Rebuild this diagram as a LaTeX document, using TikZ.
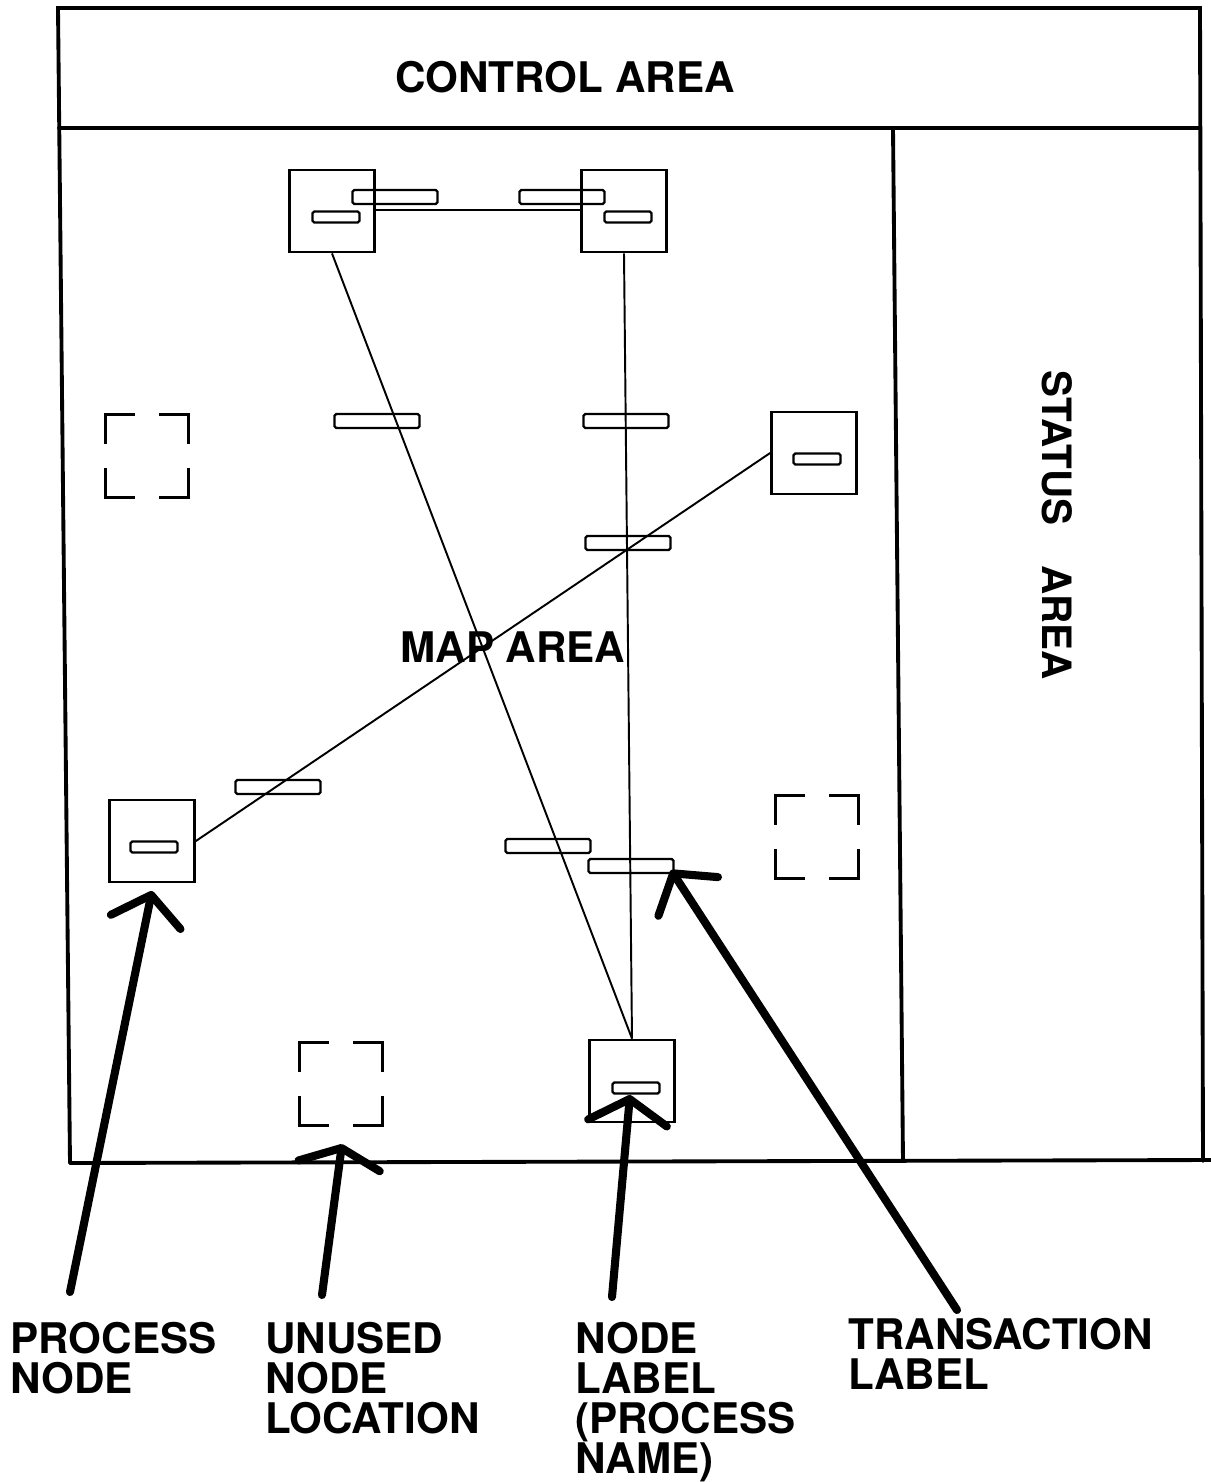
\documentclass[tikz,border=0pt]{standalone}
\usepackage{fontspec}
\setmainfont{TeX Gyre Heros}
\usetikzlibrary{arrows.meta, positioning, calc}

\tikzset{
  frame/.style={line width=2.2pt, line cap=round},
  procnode/.style={draw, line width=1.6pt, minimum width=1.7cm, minimum height=1.64cm, inner sep=0pt},
  namebox/.style={draw, line width=1.3pt, rounded corners=1pt, minimum width=0.94cm, minimum height=0.22cm, inner sep=0pt},
  transbox/.style={draw, line width=1.3pt, rounded corners=1pt, minimum width=1.7cm, minimum height=0.28cm, inner sep=0pt},
  freeslot/.style={draw, line width=1.5pt, line cap=rect, minimum size=1.66cm, inner sep=0pt,
                   dash pattern=on 1.14cm off 0.52cm, dash phase=0.57cm},
  link/.style={line width=1.1pt},
  pointer/.style={line width=4.6pt, line cap=round},
  areatext/.style={font=\fontsize{24}{24}\selectfont\bfseries, inner sep=0pt},
  callout/.style={font=\fontsize{24}{22.7}\selectfont\bfseries, align=left, anchor=north west, inner sep=0pt}
}

\begin{document}
\begin{tikzpicture}[x=0.02cm, y=-0.02cm]
  \useasboundingbox (0,0) rectangle (1211,1482);

  % screen frame
  \coordinate (tl) at (58,8);
  \coordinate (tr) at (1200,8);
  \coordinate (br) at (1203,1161);
  \coordinate (bl) at (70,1163);
  \draw[frame] (bl) -- (tl) -- (tr) -- (br);
  \draw[frame] (bl) -- (1211,1160);
  \draw[frame] (59,128) -- (1200,128);
  \draw[frame] (893,128) -- (903,1161);

  % area titles
  \node[areatext] (ctrl) at (565,77) {CONTROL AREA};
  \node[areatext] (map) at (513,647) {MAP AREA};
  \node[areatext, font=\fontsize{23}{23}\selectfont\bfseries, rotate=-90] (status) at (1057,525)
    {STATUS\hspace{0.8cm}AREA};

  % process nodes
  \node[procnode] (pA) at (332,211) {};
  \node[procnode] (pB) at (624,211) {};
  \node[procnode] (pC) at (814,453) {};
  \node[procnode] (pD) at (152,841) {};
  \node[procnode] (pE) at (632,1081) {};

  % process names
  \node[namebox] (nA) at (336,217) {};
  \node[namebox] (nB) at (628,217) {};
  \node[namebox] (nC) at (817,459) {};
  \node[namebox] (nD) at (154,847) {};
  \node[namebox] (nE) at (636,1088) {};

  % unused node locations
  \node[freeslot] (u1) at (147,456) {};
  \node[freeslot] (u2) at (817,837) {};
  \node[freeslot] (u3) at (341,1084) {};

  % transactions
  \draw[link, line width=1.5pt] (pA.east |- 0,210) -- (pB.west |- 0,210);
  \draw[link] (pA.south) -- (pE.north);
  \draw[link] (pB.south) -- (pE.north);
  \draw[link] (pC.west) -- (pD.east);

  % transaction labels
  \node[transbox] (t1) at (395,197) {};
  \node[transbox] (t2) at (562,197) {};
  \node[transbox] (t3) at (377,421) {};
  \node[transbox] (t4) at (626,421) {};
  \node[transbox] (t5) at (628,543) {};
  \node[transbox] (t6) at (278,787) {};
  \node[transbox] (t7) at (548,846) {};
  \node[transbox] (t8) at (631,866) {};

  % callouts
  \node[callout] (lblProc) at (10,1322) {PROCESS\\NODE};
  \node[callout] (lblFree) at (265,1322) {UNUSED\\NODE\\LOCATION};
  \node[callout] (lblName) at (575,1322) {NODE\\LABEL\\(PROCESS\\NAME)};
  \node[callout] (lblTrans) at (848,1318) {TRANSACTION\\LABEL};

  \coordinate (tipProc) at (152,891);
  \coordinate (tipFree) at (342,1144);
  \coordinate (tipName) at (630,1095);
  \coordinate (tipTrans) at (671,870);

  \draw[pointer, -{Straight Barb[length=0.55cm, width=1.42cm, round]}] (lblProc.north west) ++(60,-30) -- (tipProc);
  \draw[pointer, -{Straight Barb[length=0.36cm, width=1.64cm, round]}] (lblFree.north west) ++(57,-27) -- (tipFree);
  \draw[pointer, -{Straight Barb[length=0.48cm, width=1.58cm, round]}] (lblName.north west) ++(37,-25) -- (tipName);
  \draw[pointer, -{Straight Barb[length=0.55cm, width=1.42cm, round]}] (lblTrans.north west) ++(109,-8) -- (tipTrans);
\end{tikzpicture}
\end{document}
